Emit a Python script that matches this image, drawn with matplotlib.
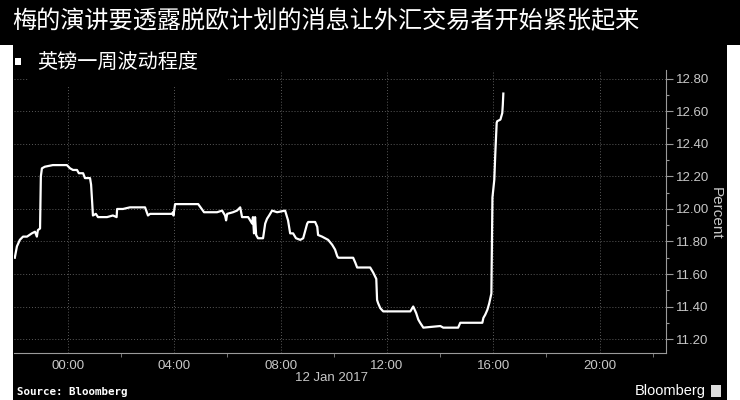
import matplotlib
matplotlib.use("Agg")
import matplotlib.pyplot as plt
from matplotlib.patches import Rectangle

# hours relative to 00:00 on 12 Jan 2017 (negative = 11 Jan)
hours = [-2.00, -1.92, -1.81, -1.69, -1.54, -1.36, -1.24, -1.17, -1.13, -1.05,
         -1.02, -0.98, -0.87, -0.57, -0.04, 0.08, 0.19, 0.34, 0.41, 0.57,
         0.64, 0.83, 0.87, 0.90, 0.94, 1.05, 1.13, 1.47, 1.69, 1.83,
         1.85, 2.07, 2.33, 2.90, 3.01, 3.09, 3.92, 3.95, 3.97, 4.03,
         4.10, 4.90, 5.12, 5.35, 5.61, 5.80, 5.91, 5.95, 5.99, 6.21,
         6.36, 6.48, 6.55, 6.78, 6.93, 6.96, 7.00, 7.04, 7.08, 7.15,
         7.34, 7.42, 7.49, 7.57, 7.68, 7.87, 8.17, 8.28, 8.36, 8.47,
         8.58, 8.74, 8.85, 9.00, 9.04, 9.30, 9.38, 9.41, 9.56, 9.79,
         9.94, 10.05, 10.13, 10.17, 10.73, 10.81, 10.88, 11.37, 11.48, 11.60,
         11.63, 11.67, 11.75, 11.86, 12.24, 12.61, 12.88, 12.99, 13.10, 13.18,
         13.25, 13.37, 14.01, 14.12, 14.68, 14.76, 15.59, 15.63, 15.70, 15.78,
         15.85, 15.93, 15.95, 15.97, 16.04, 16.08, 16.13, 16.15, 16.27, 16.34,
         16.36, 16.38]
vol = [11.70, 11.77, 11.81, 11.83, 11.83, 11.85, 11.86, 11.83, 11.87, 11.88,
       12.20, 12.25, 12.26, 12.27, 12.27, 12.25, 12.24, 12.24, 12.22, 12.22,
       12.19, 12.19, 12.15, 12.07, 11.96, 11.97, 11.95, 11.95, 11.96, 11.95,
       12.00, 12.00, 12.01, 12.01, 11.96, 11.97, 11.97, 11.98, 11.96, 12.03,
       12.03, 12.03, 11.98, 11.98, 11.98, 11.99, 11.96, 11.93, 11.97, 11.98,
       11.99, 12.01, 11.95, 11.95, 11.91, 11.95, 11.85, 11.95, 11.84, 11.82,
       11.82, 11.91, 11.94, 11.96, 11.99, 11.98, 11.99, 11.93, 11.85, 11.85,
       11.82, 11.81, 11.82, 11.91, 11.92, 11.92, 11.89, 11.84, 11.83, 11.81,
       11.78, 11.75, 11.71, 11.70, 11.70, 11.67, 11.64, 11.64, 11.61, 11.57,
       11.44, 11.42, 11.39, 11.37, 11.37, 11.37, 11.37, 11.40, 11.36, 11.32,
       11.30, 11.27, 11.28, 11.27, 11.27, 11.30, 11.30, 11.33, 11.35, 11.38,
       11.42, 11.48, 11.77, 12.07, 12.18, 12.35, 12.53, 12.54, 12.55, 12.59,
       12.64, 12.71]

xtick_pos = [0, 4, 8, 12, 16, 20]
xtick_labels = ["00:00", "04:00", "08:00", "12:00", "16:00", "20:00"]
ytick_pos = [11.2, 11.4, 11.6, 11.8, 12.0, 12.2, 12.4, 12.6, 12.8]

title = "梅的演讲要透露脱欧计划的消息让外汇交易者开始紧张起来"
subtitle = "英镑一周波动程度"

W, H = 740, 400
fig = plt.figure(figsize=(7.4, 4), dpi=100, facecolor="black")

def fx(px):
    return px / W

def fy(py):
    return 1 - py / H

ax = fig.add_axes([fx(14), fy(353), fx(666) - fx(14), fy(70) - fy(353)])
ax.set_facecolor("black")
ax.plot(hours, vol, color="white", lw=1.6, solid_joinstyle="round", zorder=3)

ax.set_xlim(-2.03, 22.5)
ax.set_ylim(11.114, 12.855)

ax.set_xticks(xtick_pos)
ax.set_xticklabels(xtick_labels)
ax.set_xticks([2, 6, 10, 14, 18, 22], minor=True)
ax.set_yticks(ytick_pos)
ax.set_yticklabels([f"{v:.2f}" for v in ytick_pos])
ax.set_yticks([11.3, 11.5, 11.7, 11.9, 12.1, 12.3, 12.5, 12.7], minor=True)

ax.yaxis.tick_right()
ax.tick_params(axis="x", which="major", length=0, pad=5, colors="#c8c8c8",
               labelsize=9.5)
ax.tick_params(axis="x", which="minor", length=3, color="#888888", direction="out")
ax.tick_params(axis="y", which="major", length=5, width=0.8, color="#999999",
               pad=2, labelcolor="#c8c8c8", labelsize=9.5)
ax.tick_params(axis="y", which="minor", length=2.5, width=0.8, color="#999999")
for lab in ax.get_xticklabels() + ax.get_yticklabels():
    lab.set_family("Liberation Sans")

ax.grid(True, which="major", color="#5a5a5a", linestyle=(0, (1, 2)), lw=0.7)
for side in ["left", "top"]:
    ax.spines[side].set_visible(False)
ax.spines["right"].set_color("#9a9a9a")
ax.spines["bottom"].set_color("#9a9a9a")

# white page margins left and right
fig.add_artist(Rectangle((0, 0), fx(13), fy(45), transform=fig.transFigure,
                         facecolor="white", edgecolor="none", zorder=5))
fig.add_artist(Rectangle((fx(727), 0), 1 - fx(727), fy(45), transform=fig.transFigure,
                         facecolor="white", edgecolor="none", zorder=5))

# mask behind subtitle
fig.add_artist(Rectangle((fx(28), fy(86)), fx(200), fy(48) - fy(86),
                         transform=fig.transFigure, facecolor="black",
                         edgecolor="none", zorder=2))
fig.add_artist(Rectangle((fx(15), fy(65)), fx(6), fy(58) - fy(65),
                         transform=fig.transFigure, facecolor="white",
                         edgecolor="none", zorder=3))

fig.text(fx(12), fy(21), title, color="white", fontsize=17.4, va="center",
         family=["Noto Sans CJK SC", "DejaVu Sans"], zorder=4)
fig.text(fx(37), fy(62), subtitle, color="white", fontsize=14.5, va="center",
         family=["Noto Sans CJK SC", "DejaVu Sans"], zorder=4)

fig.text(fx(716), fy(213), "Percent", color="#c8c8c8", fontsize=11,
         rotation=270, ha="center", va="center", family="Liberation Sans",
         zorder=6)
fig.text(fx(368), fy(378), "12 Jan 2017", color="#c8c8c8", fontsize=9.5,
         ha="right", va="center", family="Liberation Sans")
fig.text(fx(17), fy(392), "Source: Bloomberg", color="white", fontsize=7.8,
         fontweight="bold", va="center", family="DejaVu Sans Mono")
fig.text(fx(706), fy(391), "Bloomberg", color="white", fontsize=10.5,
         ha="right", va="center", family="Liberation Sans")
fig.add_artist(Rectangle((fx(711), fy(397)), fx(10), fy(385) - fy(397),
                         transform=fig.transFigure, facecolor="#dddddd",
                         edgecolor="none", zorder=4))

fig.savefig("out.png", dpi=100, facecolor=fig.get_facecolor())
